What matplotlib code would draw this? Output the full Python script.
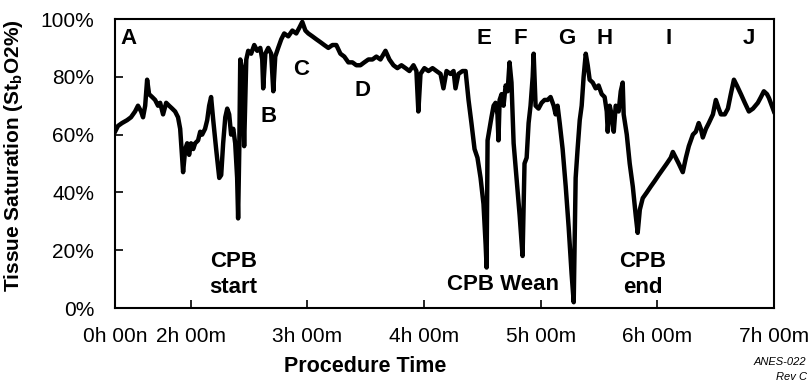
import matplotlib
matplotlib.use("Agg")
import matplotlib.pyplot as plt

plt.rcParams['font.family'] = ['Liberation Sans', 'DejaVu Sans']
plt.rcParams['mathtext.fontset'] = 'custom'
plt.rcParams['mathtext.rm'] = 'Liberation Sans'
plt.rcParams['mathtext.bf'] = 'Liberation Sans:bold'

########################
# minutes, tissue saturation %
minutes = [81.1, 82.6, 84.7, 87.3, 89.3, 91.4, 92.9, 94.5, 95.5, 96.6,
           97.6, 98.6, 100.2, 101.7, 103.2, 104.3, 105.8, 107.4, 108.9, 110.5,
           112.0, 113.5, 114.6, 115.6, 116.1, 117.2, 118.2, 119.2, 120.2, 121.3,
           122.3, 123.8, 124.9, 125.9, 127.4, 128.5, 129.5, 130.5, 131.6, 133.1,
           134.7, 135.7, 136.7, 137.8, 138.8, 139.8, 140.8, 141.9, 142.9, 143.9,
           144.4, 145.0, 145.5, 146.5, 147.5, 148.6, 149.6, 151.1, 152.7, 154.2,
           155.8, 156.8, 157.3, 158.4, 159.9, 161.4, 162.5, 163.5, 165.0, 166.6,
           168.1, 170.2, 172.3, 174.3, 175.9, 177.4, 179.0, 180.5, 182.6, 184.6,
           186.7, 188.7, 190.8, 192.9, 194.9, 197.0, 199.0, 201.1, 203.2, 205.2,
           207.3, 209.3, 211.4, 213.5, 215.5, 217.6, 220.2, 222.2, 224.3, 226.3,
           228.4, 230.5, 232.5, 234.6, 236.1, 237.1, 238.2, 240.2, 242.3, 244.4,
           246.4, 248.5, 250.0, 251.6, 253.6, 255.2, 256.2, 257.7, 259.8, 261.4,
           262.9, 264.4, 266.0, 267.5, 269.1, 270.6, 271.7, 272.2, 272.7, 273.7,
           274.7, 275.8, 276.8, 277.8, 278.3, 278.9, 279.9, 280.9, 282.0, 283.0,
           284.0, 285.0, 286.1, 287.6, 289.2, 290.7, 291.7, 292.8, 293.8, 294.8,
           295.9, 296.4, 297.4, 298.9, 300.5, 302.0, 303.6, 305.1, 306.7, 307.7,
           308.7, 309.8, 311.3, 312.9, 314.4, 315.9, 317.0, 318.0, 319.0, 320.1,
           321.1, 322.1, 323.2, 324.2, 325.2, 326.8, 328.3, 329.8, 331.4, 332.9,
           334.0, 334.5, 335.5, 336.5, 337.6, 338.6, 340.1, 341.2, 342.2, 342.7,
           344.3, 345.8, 347.4, 348.9, 349.9, 351.0, 352.5, 354.6, 356.6, 358.7,
           360.7, 362.8, 364.9, 366.9, 368.0, 369.5, 371.0, 373.1, 374.7, 376.2,
           378.3, 379.8, 381.3, 382.4, 383.4, 385.0, 386.5, 388.6, 390.1, 391.6,
           392.7, 394.7, 396.3, 397.8, 399.4, 400.9, 403.0, 405.0, 407.1, 409.2,
           411.7, 413.3, 414.8, 416.4, 417.4, 418.9, 420.0]
stbo2 = [61, 63, 64, 65, 66, 68, 70, 68, 66, 70,
         79, 74, 73, 72, 70, 71, 67, 71, 70, 69,
         68, 66, 62, 52, 47, 55, 57, 53, 57, 55,
         57, 58, 61, 60, 62, 65, 70, 73, 65, 55,
         45, 46, 57, 66, 69, 67, 60, 62, 57, 45,
         31, 55, 86, 83, 56, 86, 89, 88, 91, 89,
         90, 86, 76, 88, 90, 88, 75, 87, 90, 93,
         95, 94, 96, 95, 97, 99, 96, 95, 94, 93,
         92, 91, 90, 91, 91, 88, 87, 85, 85, 84,
         84, 85, 86, 86, 87, 86, 89, 86, 84, 83,
         84, 83, 82, 84, 82, 68, 81, 83, 82, 83,
         82, 81, 76, 82, 81, 82, 76, 81, 82, 82,
         72, 64, 55, 52, 45, 36, 22, 14, 58, 62,
         66, 70, 71, 67, 58, 72, 74, 70, 77, 75,
         85, 78, 57, 45, 32, 18, 50, 52, 64, 70,
         80, 88, 70, 69, 71, 72, 72, 73, 70, 67,
         70, 64, 55, 42, 28, 12, 2, 45, 55, 65,
         70, 80, 88, 84, 79, 78, 76, 77, 74, 73,
         68, 61, 70, 67, 61, 70, 68, 75, 78, 67,
         60, 50, 42, 32, 26, 34, 38, 40, 42, 44,
         46, 48, 50, 52, 54, 52, 50, 47, 52, 56,
         60, 61, 64, 62, 59, 62, 64, 67, 72, 69,
         67, 67, 69, 74, 79, 77, 74, 71, 68, 69,
         71, 73, 75, 74, 72.7, 70, 68]

tickMinutes = [81.1, 120, 180, 240, 300, 360, 420]
tickLabels = ['0h 00n', '2h 00m', '3h 00m', '4h 00m', '5h 00m', '6h 00m', '7h 00m']
pctTicks = [0, 20, 40, 60, 80, 100]

# event markers along the top
eventLetters = ['A', 'B', 'C', 'D', 'E', 'F', 'G', 'H', 'I', 'J']
eventX = [87.8, 159.9, 176.9, 208.2, 270.6, 289.7, 313.4, 333.0, 365.9, 407.1]
eventY = [93.4, 66.1, 82.4, 75.4, 93.4, 93.4, 93.4, 93.4, 93.4, 93.4]

########################

fig = plt.figure(figsize=(8.09, 3.81), dpi=100)
ax = fig.add_axes([0.1422, 0.1916, 0.8145, 0.7585])

ax.plot(minutes, stbo2, color='black', linewidth=3.2, solid_joinstyle='round')

ax.set_xlim(tickMinutes[0], tickMinutes[-1])
ax.set_ylim(0, 100)
ax.set_xticks(tickMinutes, labels=tickLabels)
ax.set_yticks(pctTicks, labels=[str(p) + '%' for p in pctTicks])
ax.tick_params(axis='both', direction='in', length=6, width=1.2, labelsize=15)
ax.tick_params(axis='y', pad=15)
ax.tick_params(axis='x', pad=14)
for s in ax.spines.values():
    s.set_linewidth(1.5)

ax.set_ylabel(r'Tissue Saturation (St$_{\mathbf{b}}$O2%)', fontsize=15, fontweight='bold')
ax.yaxis.set_label_coords(-0.137, 0.526)
ax.set_xlabel('Procedure Time', fontsize=15.5, fontweight='bold')
ax.xaxis.set_label_coords(0.379, -0.165)

for letter, x, y in zip(eventLetters, eventX, eventY):
    ax.text(x, y, letter, fontsize=16, fontweight='bold', ha='center', va='center')

ax.text(141.9, 11.6, 'CPB\nstart', fontsize=16, fontweight='bold', ha='center', va='center', linespacing=1.3)
ax.text(280.4, 8.3, 'CPB Wean', fontsize=16, fontweight='bold', ha='center', va='center')
ax.text(352.5, 11.6, 'CPB\nend', fontsize=16, fontweight='bold', ha='center', va='center', linespacing=1.3)

fig.text(0.997, 0.050, 'ANES-022', fontsize=8, style='italic', ha='right', va='center')
fig.text(0.997, 0.010, 'Rev C', fontsize=8, style='italic', ha='right', va='center')

fig.savefig('out.png', dpi=100)
